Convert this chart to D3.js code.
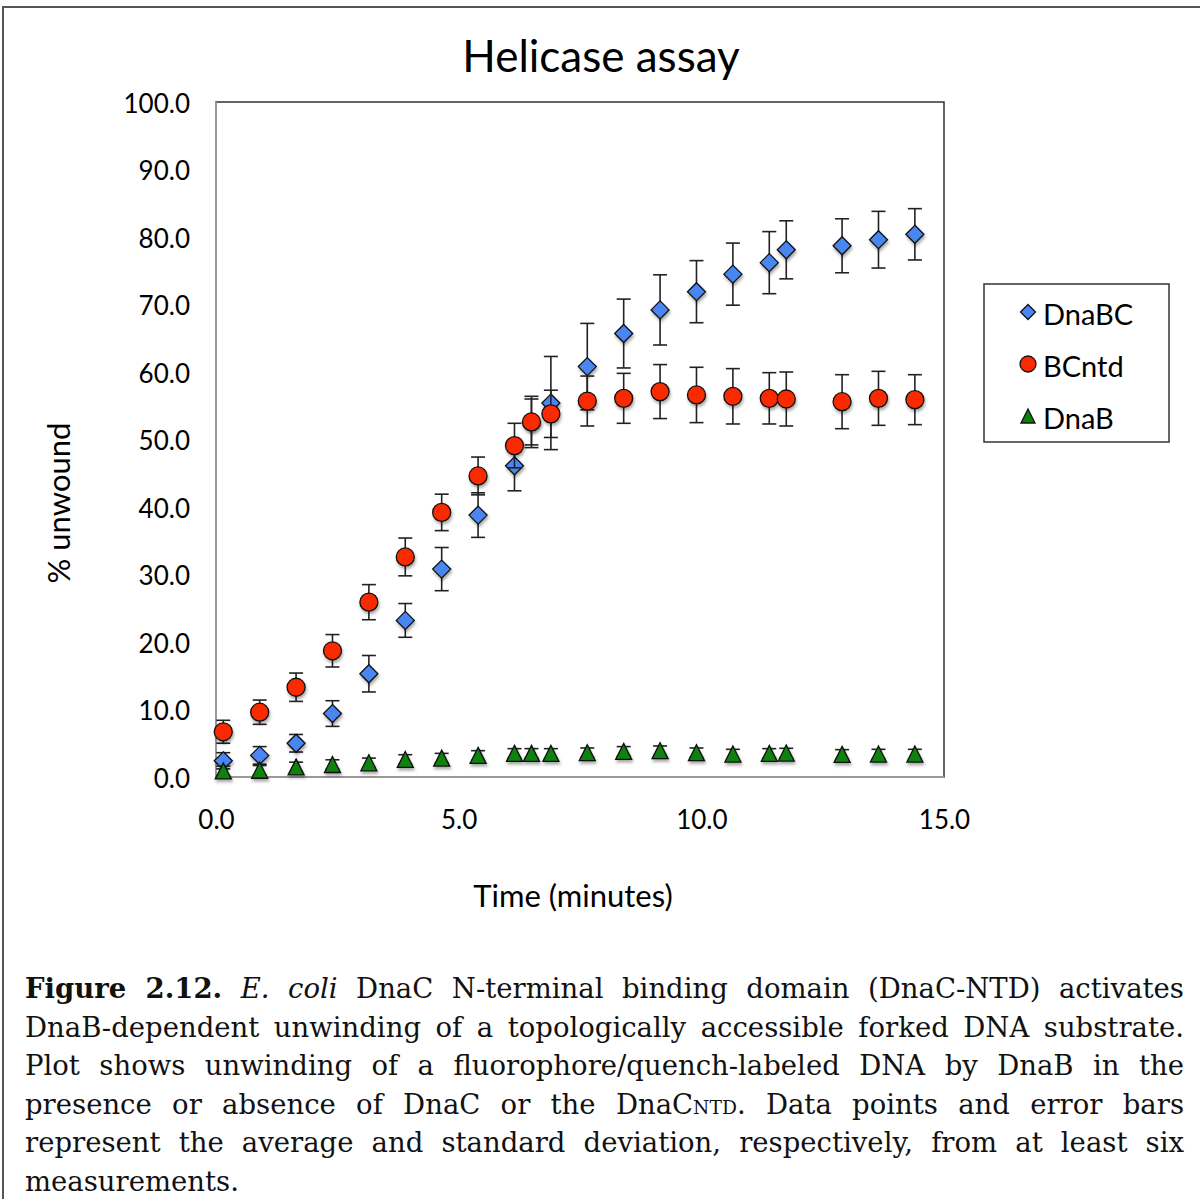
<!DOCTYPE html>
<html><head><meta charset="utf-8">
<script src="https://cdn.jsdelivr.net/npm/d3@7"></script>
<style>
body{margin:0;background:#fff;}
#wrap{position:relative;width:1200px;height:1199px;overflow:hidden;background:#fff;}
svg{position:absolute;left:0;top:0;}
.cap{position:absolute;left:25px;width:1159px;font-family:"DejaVu Serif",serif;font-size:27.5px;line-height:38.6px;height:38.6px;color:#111;text-align:justify;text-align-last:justify;white-space:nowrap;}
.cap.last{text-align-last:left;}
.sub{font-size:0.68em;}
</style>
</head><body><div id="wrap"></div>
<script>
// ---- data ----
const times = [0.15,0.9,1.65,2.4,3.15,3.9,4.65,5.4,6.15,6.5,6.9,7.65,8.4,9.15,9.9,10.65,11.4,11.75,12.9,13.65,14.4];
const dnabcVals = [2.4,3.2,5.0,9.4,15.3,23.2,30.8,38.8,46.1,52.6,55.4,60.8,65.7,69.2,71.9,74.5,76.2,78.1,78.7,79.6,80.4];
const dnabcErr  = [1.2,1.3,1.3,1.9,2.7,2.5,3.2,3.3,3.7,3.8,6.9,6.4,5.1,5.2,4.6,4.6,4.6,4.3,4.0,4.2,3.8];
const bcntdVals = [6.7,9.6,13.3,18.7,25.9,32.6,39.2,44.6,49.1,52.6,53.8,55.7,56.1,57.1,56.6,56.4,56.1,56.0,55.6,56.1,55.9];
const bcntdErr  = [1.7,1.8,2.1,2.4,2.6,2.8,2.7,2.8,3.3,3.4,3.5,3.7,3.7,4.0,4.1,4.1,3.8,4.0,4.0,4.0,3.7];
const dnabVals  = [0.9,1.0,1.5,1.85,2.1,2.6,2.8,3.2,3.5,3.5,3.5,3.6,3.8,3.9,3.6,3.4,3.5,3.55,3.35,3.4,3.4];
const dnabErr   = [0.7,0.7,0.7,0.7,0.7,0.7,0.7,0.7,0.7,0.7,0.7,0.7,0.7,0.7,0.7,0.7,0.7,0.7,0.7,0.7,0.7];
const seriesNames = ["DnaBC","BCntd","DnaB"];
const xTicks = [0,5,10,15];
const yTicks = [0,10,20,30,40,50,60,70,80,90,100];
const titleText = "Helicase assay";
const xTitle = "Time (minutes)";
const yTitle = "% unwound";

const series = [
  {name:seriesNames[0], vals:dnabcVals, err:dnabcErr, shape:"diamond", fill:"#4a86f2"},
  {name:seriesNames[1], vals:bcntdVals, err:bcntdErr, shape:"circle", fill:"#fa2a05"},
  {name:seriesNames[2], vals:dnabVals, err:dnabErr, shape:"triangle", fill:"#0a820a"}
];

const W=1200,H=1199;
const wrap = d3.select("#wrap");
const svg = wrap.append("svg").attr("width",W).attr("height",H);
const defs = svg.append("defs");
const f = defs.append("filter").attr("id","sh").attr("x","-50%").attr("y","-50%").attr("width","200%").attr("height","200%");
f.append("feDropShadow").attr("dx",1).attr("dy",2.5).attr("stdDeviation",1.6).attr("flood-color","#000").attr("flood-opacity",0.35);

// outer frame
svg.append("path").attr("d","M3,1205 L3,7 L1210,7").attr("fill","none").attr("stroke","#555").attr("stroke-width",2);

const x = d3.scaleLinear().domain([0,15]).range([216,944]);
const y = d3.scaleLinear().domain([0,100]).range([777,102]);
const font = "Lato, 'Open Sans', sans-serif";

// plot frame
svg.append("rect").attr("x",x(0)).attr("y",y(100)).attr("width",x(15)-x(0)).attr("height",y(0)-y(100))
  .attr("fill","none").attr("stroke","#333").attr("stroke-width",1.5);
svg.append("line").attr("x1",x(0)).attr("x2",x(0)).attr("y1",y(0)).attr("y2",y(100)).attr("stroke","#999").attr("stroke-width",2);
svg.append("line").attr("x1",x(0)).attr("x2",x(15)).attr("y1",y(0)).attr("y2",y(0)).attr("stroke","#999").attr("stroke-width",2);

// axes (labels only)
const gx = svg.append("g").attr("transform",`translate(0,${y(0)})`)
  .call(d3.axisBottom(x).tickValues(xTicks).tickSize(0).tickPadding(34).tickFormat(d3.format(".1f")));
const gy = svg.append("g").attr("transform",`translate(${x(0)},2)`)
  .call(d3.axisLeft(y).tickValues(yTicks).tickSize(0).tickPadding(26).tickFormat(d3.format(".1f")));
[gx,gy].forEach(g=>{g.select(".domain").remove();
  g.selectAll("text").attr("font-family",font).attr("font-size",26).attr("fill","#000");});

// title & axis titles
svg.append("text").attr("x",601).attr("y",72).attr("text-anchor","middle")
  .attr("font-family",font).attr("font-size",44).text(titleText);
svg.append("text").attr("x",573).attr("y",907).attr("text-anchor","middle")
  .attr("font-family",font).attr("font-size",31).text(xTitle);
svg.append("text").attr("transform","translate(70,503) rotate(-90)").attr("text-anchor","middle")
  .attr("font-family",font).attr("font-size",31).text(yTitle);

function shapePath(shape,s){
  if(shape==="diamond") return `M0,${-s} L${s},0 L0,${s} L${-s},0 Z`;
  if(shape==="triangle") return `M0,${-s} L${s},${s} L${-s},${s} Z`;
  return null;
}
function drawMarker(g,shape,fill,cx,cy,s){
  if(shape==="circle"){
    g.append("circle").attr("cx",cx).attr("cy",cy).attr("r",s).attr("fill",fill).attr("stroke","#111").attr("stroke-width",1.3);
  } else {
    g.append("path").attr("transform",`translate(${cx},${cy})`).attr("d",shapePath(shape,s)).attr("fill",fill).attr("stroke","#111").attr("stroke-width",1.3);
  }
}
const sizes = {diamond:9, circle:9, triangle:8};

series.forEach(sr=>{
  const g = svg.append("g");
  const eg = g.append("g").attr("stroke","#222").attr("stroke-width",1.6);
  times.forEach((t,i)=>{
    const cx=x(t), y1=y(sr.vals[i]+sr.err[i]), y2=y(sr.vals[i]-sr.err[i]);
    eg.append("line").attr("x1",cx).attr("x2",cx).attr("y1",y1).attr("y2",y2);
    eg.append("line").attr("x1",cx-7).attr("x2",cx+7).attr("y1",y1).attr("y2",y1);
    eg.append("line").attr("x1",cx-7).attr("x2",cx+7).attr("y1",y2).attr("y2",y2);
  });
  const mg = g.append("g").attr("filter","url(#sh)");
  times.forEach((t,i)=>drawMarker(mg,sr.shape,sr.fill,x(t),y(sr.vals[i]),sizes[sr.shape]));
});

// legend
const lg = svg.append("g");
lg.append("rect").attr("x",984).attr("y",284).attr("width",185).attr("height",158).attr("fill","#fff").attr("stroke","#333").attr("stroke-width",1.5);
const legSizes = {diamond:7.5, circle:8, triangle:7};
series.forEach((sr,i)=>{
  const cy = 312 + i*52;
  drawMarker(lg,sr.shape,sr.fill,1028,cy,legSizes[sr.shape]);
  lg.append("text").attr("x",1043).attr("y",cy+13).attr("font-family",font).attr("font-size",29).text(sr.name);
});

// caption
const capLines = [
  `<b>Figure 2.12.</b> <i>E. coli</i> DnaC N-terminal binding domain (DnaC-NTD) activates`,
  `DnaB-dependent unwinding of a topologically accessible forked DNA substrate.`,
  `Plot shows unwinding of a fluorophore/quench-labeled DNA by DnaB in the`,
  `presence or absence of DnaC or the DnaC<span class="sub">NTD</span>. Data points and error bars`,
  `represent the average and standard deviation, respectively, from at least six`,
  `measurements.`
];
capLines.forEach((l,i)=>{
  wrap.append("div").attr("class","cap"+(i===capLines.length-1?" last":"")).style("top",(969+i*38.6)+"px").html(l);
});
</script>
</body></html>
